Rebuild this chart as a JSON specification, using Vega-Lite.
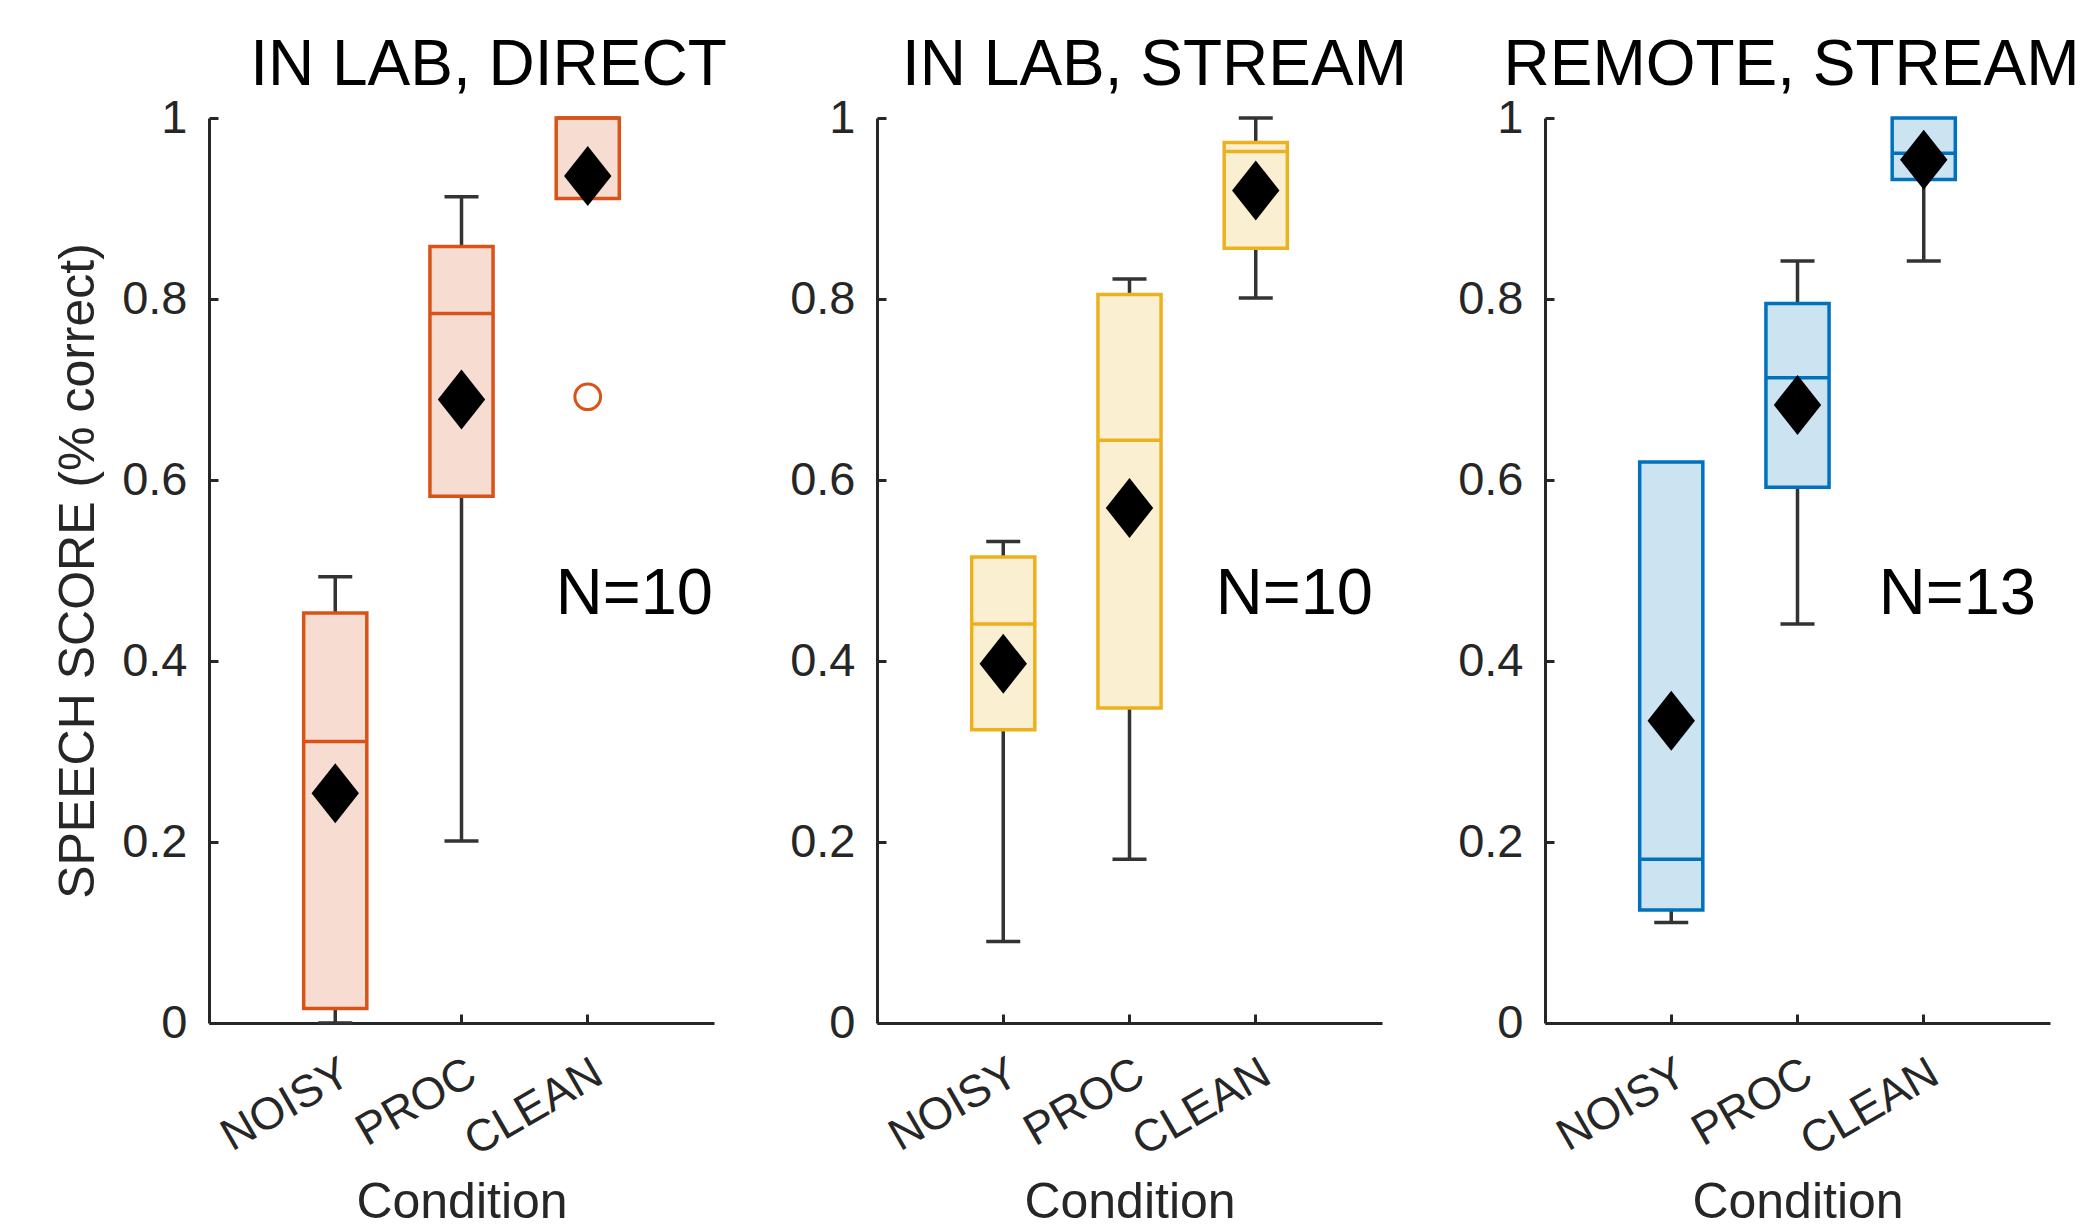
{
  "$schema": "https://vega.github.io/schema/vega-lite/v6.json",
  "background": "white",
  "padding": {"left": 53, "top": 34, "right": 5, "bottom": 5},
  "bounds": "flush",
  "spacing": 163,
  "config": {
    "view": {"stroke": null},
    "font": "Liberation Sans",
    "title": {"font": "Liberation Sans", "fontSize": 64, "fontWeight": "normal", "color": "black", "anchor": "middle", "frame": "group", "baseline": "alphabetic", "offset": -4},
    "axis": {"grid": false, "domainColor": "#262626", "domainWidth": 3, "tickColor": "#262626", "tickWidth": 3, "tickSize": -9, "labelColor": "#262626", "labelFont": "Liberation Sans", "labelFontSize": 46, "titleColor": "#262626", "titleFont": "Liberation Sans", "titleFontSize": 50, "titleFontWeight": "normal"},
    "axisY": {"labelPadding": 31, "titlePadding": 18, "labelFontSize": 47},
    "axisX": {"labelAngle": -30, "labelAlign": "right", "labelBaseline": "top", "labelPadding": 36, "titlePadding": 14, "labelFontSize": 45}
  },
  "datasets": {
    "stats": [
      {"panel": "IN LAB, DIRECT", "cond": "NOISY", "lo": 0.0, "q1": 0.016, "med": 0.311, "q3": 0.453, "hi": 0.493, "mean": 0.254},
      {"panel": "IN LAB, DIRECT", "cond": "PROC", "lo": 0.201, "q1": 0.582, "med": 0.784, "q3": 0.858, "hi": 0.913, "mean": 0.689},
      {"panel": "IN LAB, DIRECT", "cond": "CLEAN", "lo": 0.911, "q1": 0.911, "med": 1.0, "q3": 1.0, "hi": 1.0, "mean": 0.936},
      {"panel": "IN LAB, STREAM", "cond": "NOISY", "lo": 0.09, "q1": 0.324, "med": 0.441, "q3": 0.515, "hi": 0.532, "mean": 0.397},
      {"panel": "IN LAB, STREAM", "cond": "PROC", "lo": 0.181, "q1": 0.348, "med": 0.644, "q3": 0.805, "hi": 0.822, "mean": 0.569},
      {"panel": "IN LAB, STREAM", "cond": "CLEAN", "lo": 0.801, "q1": 0.856, "med": 0.963, "q3": 0.973, "hi": 1.0, "mean": 0.92},
      {"panel": "REMOTE, STREAM", "cond": "NOISY", "lo": 0.111, "q1": 0.125, "med": 0.181, "q3": 0.62, "hi": 0.62, "mean": 0.334},
      {"panel": "REMOTE, STREAM", "cond": "PROC", "lo": 0.441, "q1": 0.592, "med": 0.713, "q3": 0.795, "hi": 0.842, "mean": 0.683},
      {"panel": "REMOTE, STREAM", "cond": "CLEAN", "lo": 0.842, "q1": 0.932, "med": 0.961, "q3": 1.0, "hi": 1.0, "mean": 0.954}
    ],
    "outliers": [
      {"panel": "IN LAB, DIRECT", "cond": "CLEAN", "value": 0.692}
    ],
    "notes": [
      {"panel": "IN LAB, DIRECT", "label": "N=10"},
      {"panel": "IN LAB, STREAM", "label": "N=10"},
      {"panel": "REMOTE, STREAM", "label": "N=13"}
    ]
  },
  "hconcat": [
    {
      "width": 505, "height": 905,
      "title": {"text": "IN LAB, DIRECT", "dx": 27},
      "encoding": {
        "x": {"field": "cond", "type": "nominal", "title": "Condition", "scale": {"domain": ["NOISY", "PROC", "CLEAN"], "paddingInner": 0.5, "paddingOuter": 0.75}}
      },
      "layer": [
        {"data": {"name": "stats"}, "transform": [{"filter": "datum.panel === 'IN LAB, DIRECT'"}],
         "mark": {"type": "rule", "color": "#333333", "strokeWidth": 3.5},
         "encoding": {"y": {"field": "lo", "type": "quantitative", "title": "SPEECH SCORE (% correct)", "scale": {"domain": [0, 1], "nice": false, "zero": false}, "axis": {"values": [0, 0.2, 0.4, 0.6, 0.8, 1], "format": "~g"}}, "y2": {"field": "hi"}}},
        {"data": {"name": "stats"}, "transform": [{"filter": "datum.panel === 'IN LAB, DIRECT'"}],
         "mark": {"type": "bar", "fill": "#F7DDD1", "stroke": "#D95319", "strokeWidth": 3.5},
         "encoding": {"y": {"field": "q1", "type": "quantitative", "title": "SPEECH SCORE (% correct)"}, "y2": {"field": "q3"}}},
        {"data": {"name": "stats"}, "transform": [{"filter": "datum.panel === 'IN LAB, DIRECT'"}],
         "mark": {"type": "tick", "color": "#D95319", "size": 63, "thickness": 3.5, "opacity": 1},
         "encoding": {"y": {"field": "med", "type": "quantitative", "title": "SPEECH SCORE (% correct)"}}},
        {"data": {"name": "stats"}, "transform": [{"filter": "datum.panel === 'IN LAB, DIRECT' && datum.lo < datum.q1"}],
         "mark": {"type": "tick", "color": "#333333", "size": 34, "thickness": 3.5, "opacity": 1},
         "encoding": {"y": {"field": "lo", "type": "quantitative", "title": "SPEECH SCORE (% correct)"}}},
        {"data": {"name": "stats"}, "transform": [{"filter": "datum.panel === 'IN LAB, DIRECT' && datum.hi > datum.q3"}],
         "mark": {"type": "tick", "color": "#333333", "size": 34, "thickness": 3.5, "opacity": 1},
         "encoding": {"y": {"field": "hi", "type": "quantitative", "title": "SPEECH SCORE (% correct)"}}},
        {"data": {"name": "outliers"}, "transform": [{"filter": "datum.panel === 'IN LAB, DIRECT'"}],
         "mark": {"type": "point", "shape": "circle", "filled": false, "stroke": "#D95319", "strokeWidth": 3, "size": 660, "opacity": 1},
         "encoding": {"y": {"field": "value", "type": "quantitative", "title": "SPEECH SCORE (% correct)"}}},
        {"data": {"name": "stats"}, "transform": [{"filter": "datum.panel === 'IN LAB, DIRECT'"}],
         "mark": {"type": "point", "shape": "M-0.79,0L0,-1L0.79,0L0,1Z", "filled": true, "color": "black", "size": 3600, "opacity": 1},
         "encoding": {"y": {"field": "mean", "type": "quantitative", "title": "SPEECH SCORE (% correct)"}}},
        {"data": {"name": "notes"}, "transform": [{"filter": "datum.panel === 'IN LAB, DIRECT'"}],
         "mark": {"type": "text", "align": "left", "baseline": "middle", "fontSize": 65, "dx": -32, "color": "black", "font": "Liberation Sans"},
         "encoding": {"x": {"datum": "CLEAN", "title": "Condition"}, "y": {"datum": 0.474, "title": "SPEECH SCORE (% correct)"}, "text": {"field": "label"}}}
      ]
    },
    {
      "width": 505, "height": 905,
      "title": {"text": "IN LAB, STREAM", "dx": 25},
      "encoding": {
        "x": {"field": "cond", "type": "nominal", "title": "Condition", "scale": {"domain": ["NOISY", "PROC", "CLEAN"], "paddingInner": 0.5, "paddingOuter": 0.75}}
      },
      "layer": [
        {"data": {"name": "stats"}, "transform": [{"filter": "datum.panel === 'IN LAB, STREAM'"}],
         "mark": {"type": "rule", "color": "#333333", "strokeWidth": 3.5},
         "encoding": {"y": {"field": "lo", "type": "quantitative", "title": null, "scale": {"domain": [0, 1], "nice": false, "zero": false}, "axis": {"values": [0, 0.2, 0.4, 0.6, 0.8, 1], "format": "~g"}}, "y2": {"field": "hi"}}},
        {"data": {"name": "stats"}, "transform": [{"filter": "datum.panel === 'IN LAB, STREAM'"}],
         "mark": {"type": "bar", "fill": "#FBEFD2", "stroke": "#EDB120", "strokeWidth": 3.5},
         "encoding": {"y": {"field": "q1", "type": "quantitative", "title": null}, "y2": {"field": "q3"}}},
        {"data": {"name": "stats"}, "transform": [{"filter": "datum.panel === 'IN LAB, STREAM'"}],
         "mark": {"type": "tick", "color": "#EDB120", "size": 63, "thickness": 3.5, "opacity": 1},
         "encoding": {"y": {"field": "med", "type": "quantitative", "title": null}}},
        {"data": {"name": "stats"}, "transform": [{"filter": "datum.panel === 'IN LAB, STREAM' && datum.lo < datum.q1"}],
         "mark": {"type": "tick", "color": "#333333", "size": 34, "thickness": 3.5, "opacity": 1},
         "encoding": {"y": {"field": "lo", "type": "quantitative", "title": null}}},
        {"data": {"name": "stats"}, "transform": [{"filter": "datum.panel === 'IN LAB, STREAM' && datum.hi > datum.q3"}],
         "mark": {"type": "tick", "color": "#333333", "size": 34, "thickness": 3.5, "opacity": 1},
         "encoding": {"y": {"field": "hi", "type": "quantitative", "title": null}}},
        {"data": {"name": "stats"}, "transform": [{"filter": "datum.panel === 'IN LAB, STREAM'"}],
         "mark": {"type": "point", "shape": "M-0.79,0L0,-1L0.79,0L0,1Z", "filled": true, "color": "black", "size": 3600, "opacity": 1},
         "encoding": {"y": {"field": "mean", "type": "quantitative", "title": null}}},
        {"data": {"name": "notes"}, "transform": [{"filter": "datum.panel === 'IN LAB, STREAM'"}],
         "mark": {"type": "text", "align": "left", "baseline": "middle", "fontSize": 65, "dx": -40, "color": "black", "font": "Liberation Sans"},
         "encoding": {"x": {"datum": "CLEAN", "title": "Condition"}, "y": {"datum": 0.474, "title": null}, "text": {"field": "label"}}}
      ]
    },
    {
      "width": 505, "height": 905,
      "title": {"text": "REMOTE, STREAM", "dx": -6},
      "encoding": {
        "x": {"field": "cond", "type": "nominal", "title": "Condition", "scale": {"domain": ["NOISY", "PROC", "CLEAN"], "paddingInner": 0.5, "paddingOuter": 0.75}}
      },
      "layer": [
        {"data": {"name": "stats"}, "transform": [{"filter": "datum.panel === 'REMOTE, STREAM'"}],
         "mark": {"type": "rule", "color": "#333333", "strokeWidth": 3.5},
         "encoding": {"y": {"field": "lo", "type": "quantitative", "title": null, "scale": {"domain": [0, 1], "nice": false, "zero": false}, "axis": {"values": [0, 0.2, 0.4, 0.6, 0.8, 1], "format": "~g"}}, "y2": {"field": "hi"}}},
        {"data": {"name": "stats"}, "transform": [{"filter": "datum.panel === 'REMOTE, STREAM'"}],
         "mark": {"type": "bar", "fill": "#CCE3F2", "stroke": "#0072BD", "strokeWidth": 3.5},
         "encoding": {"y": {"field": "q1", "type": "quantitative", "title": null}, "y2": {"field": "q3"}}},
        {"data": {"name": "stats"}, "transform": [{"filter": "datum.panel === 'REMOTE, STREAM'"}],
         "mark": {"type": "tick", "color": "#0072BD", "size": 63, "thickness": 3.5, "opacity": 1},
         "encoding": {"y": {"field": "med", "type": "quantitative", "title": null}}},
        {"data": {"name": "stats"}, "transform": [{"filter": "datum.panel === 'REMOTE, STREAM' && datum.lo < datum.q1"}],
         "mark": {"type": "tick", "color": "#333333", "size": 34, "thickness": 3.5, "opacity": 1},
         "encoding": {"y": {"field": "lo", "type": "quantitative", "title": null}}},
        {"data": {"name": "stats"}, "transform": [{"filter": "datum.panel === 'REMOTE, STREAM' && datum.hi > datum.q3"}],
         "mark": {"type": "tick", "color": "#333333", "size": 34, "thickness": 3.5, "opacity": 1},
         "encoding": {"y": {"field": "hi", "type": "quantitative", "title": null}}},
        {"data": {"name": "stats"}, "transform": [{"filter": "datum.panel === 'REMOTE, STREAM'"}],
         "mark": {"type": "point", "shape": "M-0.79,0L0,-1L0.79,0L0,1Z", "filled": true, "color": "black", "size": 3600, "opacity": 1},
         "encoding": {"y": {"field": "mean", "type": "quantitative", "title": null}}},
        {"data": {"name": "notes"}, "transform": [{"filter": "datum.panel === 'REMOTE, STREAM'"}],
         "mark": {"type": "text", "align": "left", "baseline": "middle", "fontSize": 65, "dx": -45, "color": "black", "font": "Liberation Sans"},
         "encoding": {"x": {"datum": "CLEAN", "title": "Condition"}, "y": {"datum": 0.474, "title": null}, "text": {"field": "label"}}}
      ]
    }
  ]
}
